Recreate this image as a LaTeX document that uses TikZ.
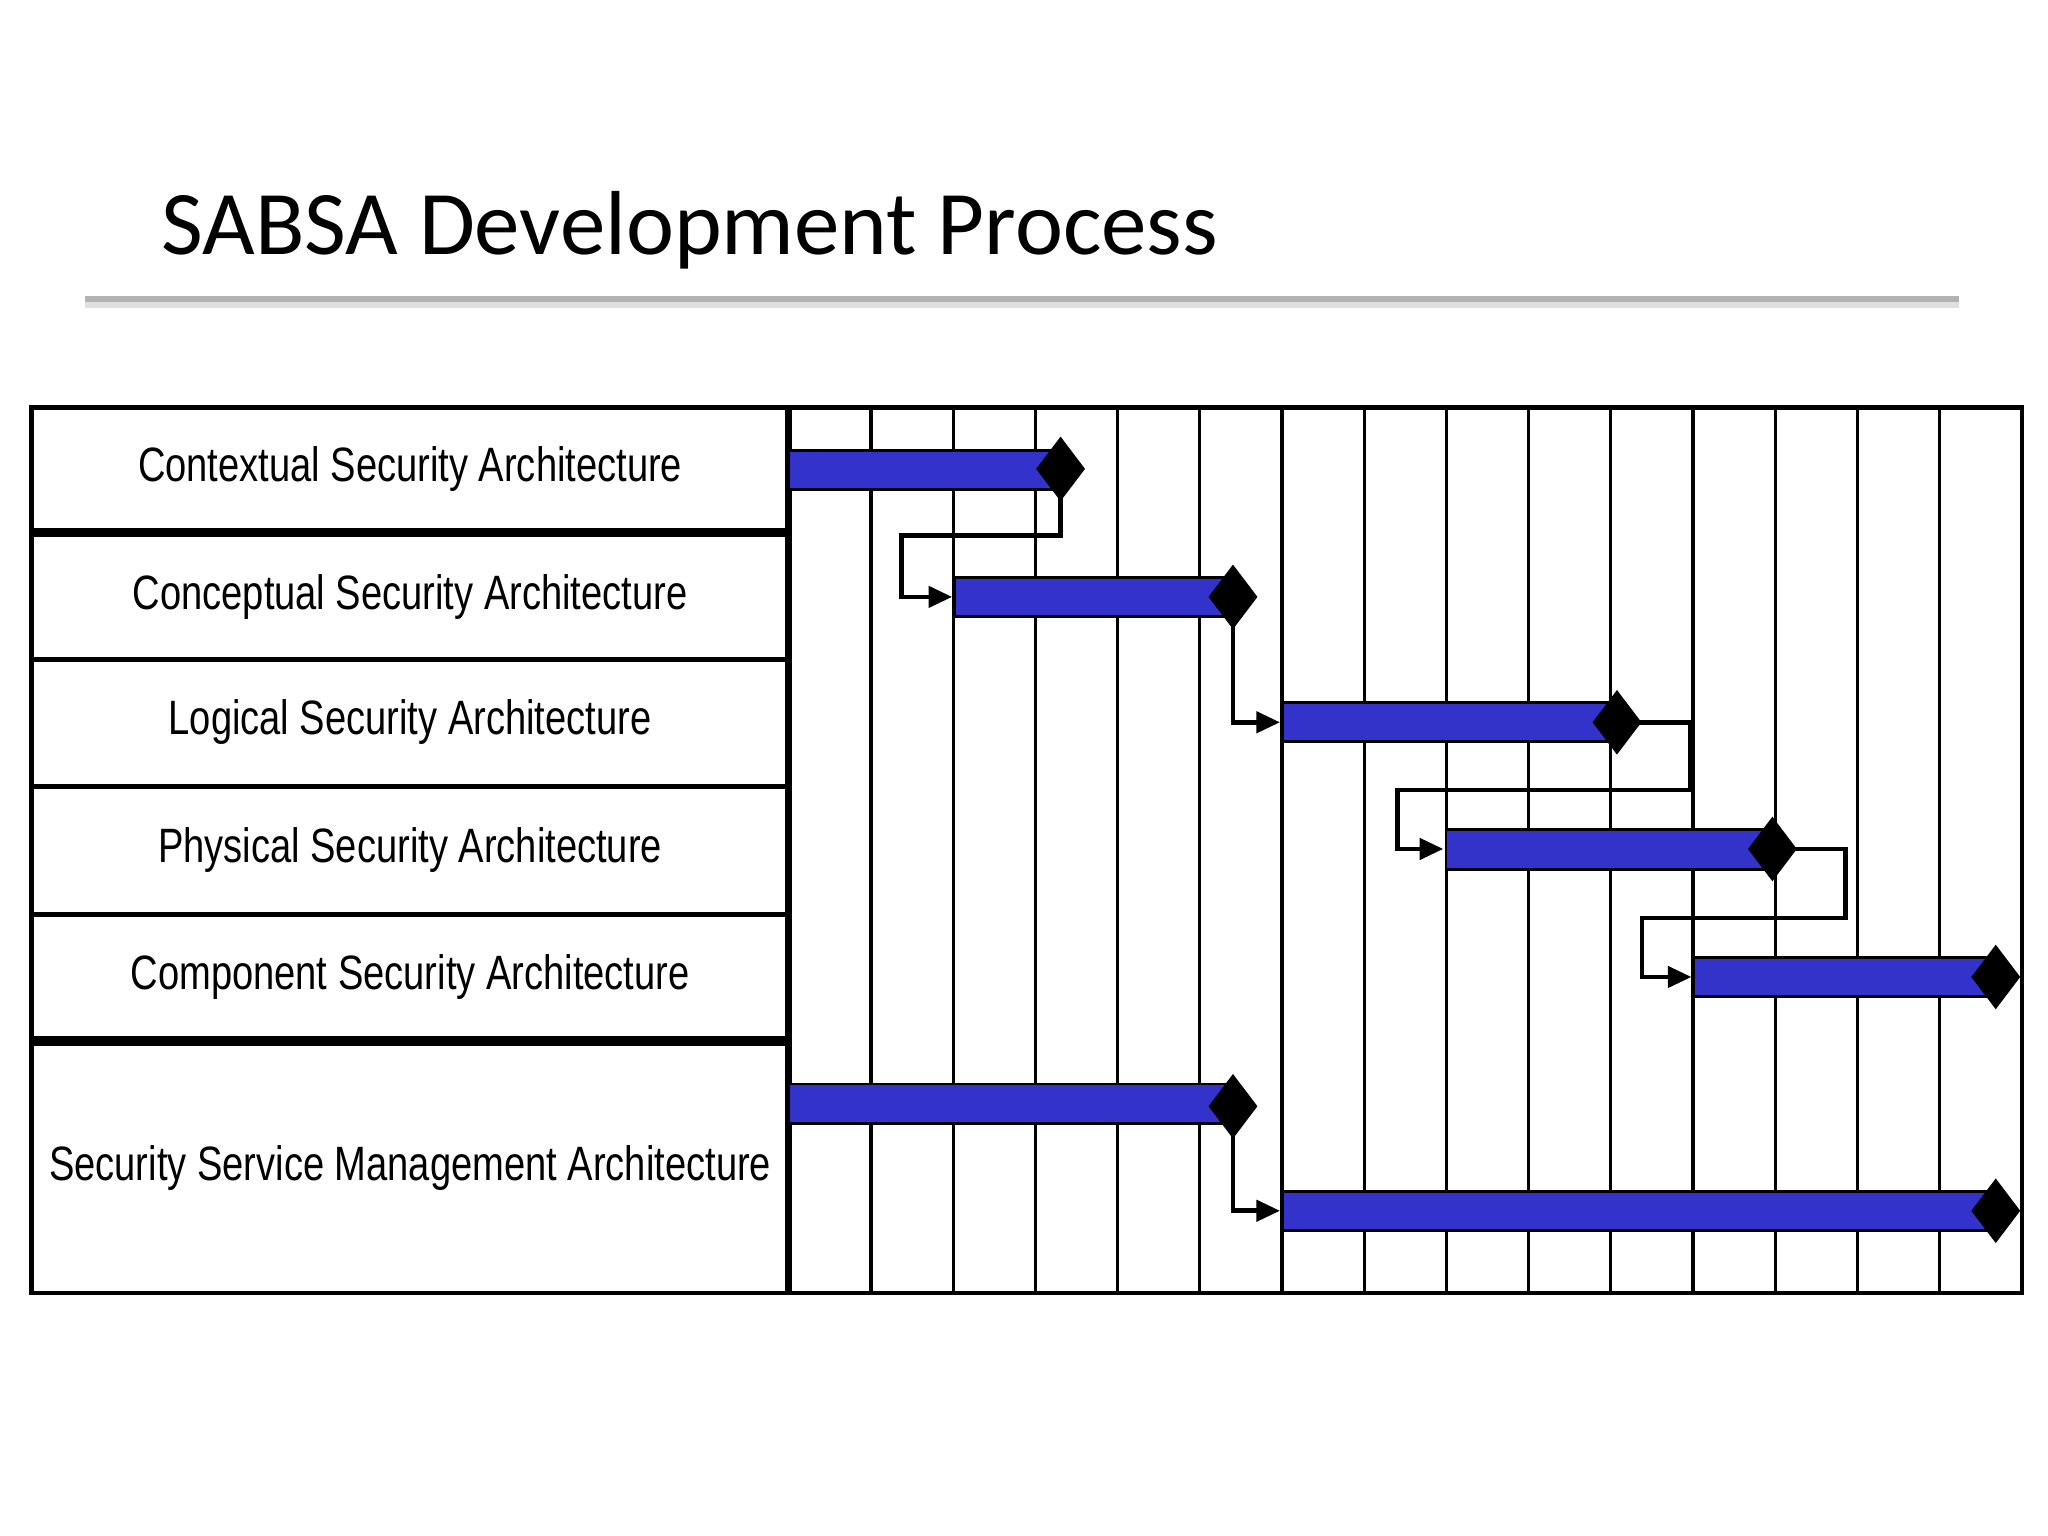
\documentclass[tikz,border=0pt]{standalone}
\usepackage{fontspec}
\setmainfont{Carlito}
\newfontfamily\lblfont{Liberation Sans}
\usetikzlibrary{shapes.geometric,arrows.meta}
\definecolor{barblue}{HTML}{3333CC}
\begin{document}
\begin{tikzpicture}[x=0.01cm,y=-0.01cm,
  bar/.style={fill=barblue,draw=black,line width=0.6pt},
  dia/.style={diamond,fill=black,minimum width=0.38cm,minimum height=0.5cm,inner sep=0pt},
  conn/.style={line width=1pt,-{Triangle[length=0.18cm,width=0.16cm]}},
  lbl/.style={font=\lblfont\fontsize{10.5pt}{12pt}\selectfont,xscale=0.79}]
\useasboundingbox (0,0) rectangle (1568,1176);
\node[anchor=base west,font=\fontsize{19.8pt}{24pt}\selectfont,inner sep=0pt] (title) at (123,195) {SABSA Development Process};
\fill[gray!25] (65,231) rectangle (1500,236);
\draw[gray!60,line width=1.2pt] (65,229) -- (1500,229);
% grid
\foreach \i in {1,...,14} \draw[line width=0.7pt] ({604+\i*62.93},312) -- ({604+\i*62.93},990);
\draw[line width=1pt] (24,312) rectangle (1548,990);
\draw[line width=1.5pt] (604,312) -- (604,990);
\foreach \y in {505,602,700} \draw[line width=1pt] (24,\y) -- (604,\y);
\foreach \y in {408,797} \draw[line width=2pt] (24,\y) -- (604,\y);
% labels
\node[lbl] (l1) at (314,359) {Contextual Security Architecture};
\node[lbl] (l2) at (314,457) {Conceptual Security Architecture};
\node[lbl] (l3) at (314,553) {Logical Security Architecture};
\node[lbl] (l4) at (314,651) {Physical Security Architecture};
\node[lbl] (l5) at (314,748) {Component Security Architecture};
\node[lbl] (l6) at (314,894) {Security Service Management Architecture};
% bars
\draw[bar] (604,345) rectangle (812,375);
\draw[bar] (731,442) rectangle (944,472);
\draw[bar] (982,538) rectangle (1238,568);
\draw[bar] (1107,635) rectangle (1357,666);
\draw[bar] (1297,733) rectangle (1528,763);
\draw[bar] (604,830) rectangle (944,860);
\draw[bar] (982,912) rectangle (1528,942);
\node[dia] (d1) at (812,359) {};
\node[dia] (d2) at (944,457) {};
\node[dia] (d3) at (1238,553) {};
\node[dia] (d4) at (1357,650) {};
\node[dia] (d5) at (1528,748) {};
\node[dia] (d6) at (944,847) {};
\node[dia] (d7) at (1528,927) {};
\coordinate (s2) at (729,457);
\coordinate (s3) at (980,553);
\coordinate (s4) at (1105,650);
\coordinate (s5) at (1295,748);
\coordinate (s7) at (980,927);
% connectors
\draw[conn] (d1.center) -- (812,410) -- (690,410) -- (690,457) -- (s2);
\draw[conn] (d2.center) -- (944,553) -- (s3);
\draw[conn] (d3.center) -- (1294,553) -- (1294,605) -- (1070,605) -- (1070,650) -- (s4);
\draw[conn] (d4.center) -- (1413,650) -- (1413,703) -- (1257,703) -- (1257,748) -- (s5);
\draw[conn] (d6.center) -- (944,927) -- (s7);
\end{tikzpicture}
\end{document}
